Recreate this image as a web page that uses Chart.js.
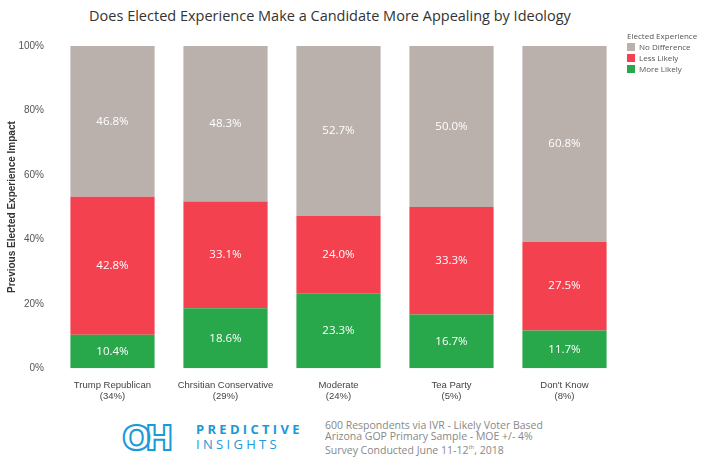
<!DOCTYPE html>
<html><head><meta charset="utf-8">
<script src="https://cdn.jsdelivr.net/npm/chart.js@4"></script>
<style>
body{margin:0;width:708px;height:473px;background:#fff;font-family:"Open Sans",sans-serif;position:relative;overflow:hidden}
#wrap{position:absolute;left:0;top:0;width:708px;height:405px}
#title{position:absolute;top:6px;left:0;width:660px;text-align:center;font-size:14.5px;color:#333}
#legend{position:absolute;left:627px;top:30px;font-size:8px;color:#555;line-height:11px}
#legend i{display:inline-block;width:8px;height:8px;margin-right:4px;vertical-align:-1px}
#logo{position:absolute;left:122px;top:418px;font-size:34px;font-weight:bold;color:#fff;-webkit-text-stroke:2px #1a9ad6;letter-spacing:-6px;font-family:"DejaVu Sans"}
#brand{position:absolute;left:196px;top:422px;color:#1a9ad6;font-size:13px;letter-spacing:3.3px;line-height:15px}
#note{position:absolute;left:325px;top:420px;color:#888;font-size:10.5px;line-height:11px}
</style></head><body>
<div id="title">Does Elected Experience Make a Candidate More Appealing by Ideology</div>
<div id="wrap"><canvas id="c"></canvas></div>
<div id="legend">Elected Experience<br><i style="background:#bab0ac"></i>No Difference<br><i style="background:#f4414f"></i>Less Likely<br><i style="background:#28a84a"></i>More Likely</div>
<div id="logo">OH</div>
<div id="brand"><b>PREDICTIVE</b><br>INSIGHTS</div>
<div id="note">600 Respondents via IVR - Likely Voter Based<br>Arizona GOP Primary Sample - MOE +/- 4%<br>Survey Conducted June 11-12<sup style="font-size:6px">th</sup>, 2018</div>
<script>
const categories = [['Trump Republican','(34%)'],['Chrsitian Conservative','(29%)'],['Moderate','(24%)'],['Tea Party','(5%)'],["Don't Know",'(8%)']];
const moreLikely = [10.4, 18.6, 23.3, 16.7, 11.7];
const lessLikely = [42.8, 33.1, 24.0, 33.3, 27.5];
const noDifference = [46.8, 48.3, 52.7, 50.0, 60.8];
const yTicks = [0, 20, 40, 60, 80, 100];

const labelPlugin = {
  id: 'lbl',
  afterDatasetsDraw(chart) {
    const ctx = chart.ctx;
    ctx.save();
    ctx.fillStyle = '#fff';
    ctx.font = '11.5px "Open Sans"';
    ctx.textAlign = 'center';
    ctx.textBaseline = 'middle';
    chart.data.datasets.forEach((ds, i) => {
      chart.getDatasetMeta(i).data.forEach((bar, j) => {
        const y = (bar.y + bar.base) / 2;
        ctx.fillText(ds.data[j].toFixed(1) + '%', bar.x, y);
      });
    });
    ctx.restore();
  }
};

new Chart(document.getElementById('c'), {
  type: 'bar',
  data: {
    labels: categories,
    datasets: [
      {label: 'More Likely', data: moreLikely, backgroundColor: '#28a84a'},
      {label: 'Less Likely', data: lessLikely, backgroundColor: '#f4414f'},
      {label: 'No Difference', data: noDifference, backgroundColor: '#bab0ac'}
    ]
  },
  options: {
    responsive: true, maintainAspectRatio: false, animation: false,
    layout: {padding: {top: 46, right: 87, left: 6, bottom: 0}},
    plugins: {legend: {display: false}, tooltip: {enabled: false}},
    datasets: {bar: {categoryPercentage: 1, barPercentage: 0.745}},
    scales: {
      x: {stacked: true, grid: {display: false}, border: {display: false},
          ticks: {color: '#444', font: {size: 9.5}, padding: 3, maxRotation: 0}},
      y: {stacked: true, min: 0, max: 100, afterBuildTicks: a => { a.ticks = yTicks.map(v => ({value: v})); },
          afterFit: a => { a.width = 50; },
          grid: {display: false}, border: {display: false},
          ticks: {color: '#555', font: {size: 10}, padding: 4, callback: v => v + '%'},
          title: {display: true, text: 'Previous Elected Experience Impact', color: '#333', padding: 0, font: {size: 10, weight: 'bold'}}}
    }
  },
  plugins: [labelPlugin]
});
</script>
</body></html>
